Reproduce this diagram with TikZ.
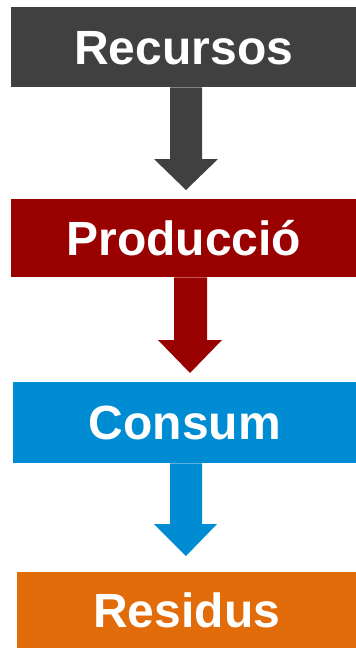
\documentclass[tikz,border=0pt]{standalone}
\usepackage{fontspec}
\setmainfont{Liberation Sans}
\definecolor{cgray}{HTML}{404040}
\definecolor{cred}{HTML}{990000}
\definecolor{cblue}{HTML}{008CD2}
\definecolor{corange}{HTML}{E36C0A}
\begin{document}
\begin{tikzpicture}[x=1pt,y=-1pt,
  stage/.style={anchor=north west, inner sep=0pt, text=white,
    font=\bfseries\fontsize{48}{48}\selectfont,
    text height=34pt, text depth=0pt},
  flow/.style={draw=none}]
\useasboundingbox (0,0) rectangle (356,648);
\node[stage, fill=cgray,   minimum width=345pt, minimum height=80pt] (rec)  at (11,7)   {Recursos};
\node[stage, fill=cred,    minimum width=345pt, minimum height=78pt] (prod) at (11,199) {Producció};
\node[stage, fill=cblue,   minimum width=343pt, minimum height=81pt] (cons) at (13,382) {Consum};
\node[stage, fill=corange, minimum width=339pt, minimum height=76pt] (res)  at (17,572) {Residus};
% arrows
\fill[cgray]   (170,0 |- rec.south) -- (202,0 |- rec.south) -- (202,159) -- (218,159)
  -- (186,190) -- (154,159) -- (170,159) -- cycle;
\fill[cred]    (174,0 |- prod.south) -- (207,0 |- prod.south) -- (207,340) -- (222,340)
  -- (190,373) -- (158,340) -- (174,340) -- cycle;
\fill[cblue]   (170,0 |- cons.south) -- (202,0 |- cons.south) -- (202,524) -- (217,524)
  -- (186,556) -- (154,524) -- (170,524) -- cycle;
\end{tikzpicture}
\end{document}
